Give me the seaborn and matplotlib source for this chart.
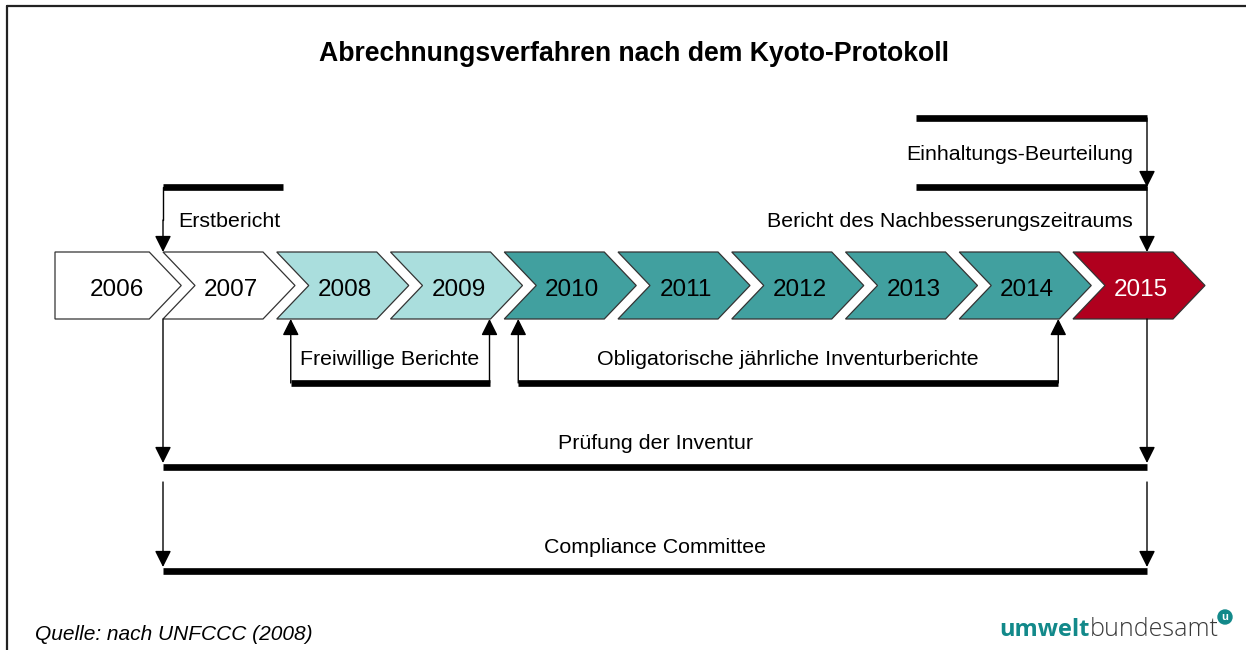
import matplotlib
matplotlib.use("Agg")
import matplotlib.pyplot as plt
import seaborn as sns
from matplotlib.patches import Polygon, Circle

# ---- data ----
years = [2006, 2007, 2008, 2009, 2010, 2011, 2012, 2013, 2014, 2015]
phases = ["vor", "vor", "frei", "frei", "pflicht", "pflicht", "pflicht", "pflicht", "pflicht", "ende"]

# labels above the timeline (arrow points down onto the year)
top_labels = ["Erstbericht", "Einhaltungs-Beurteilung", "Bericht des Nachbesserungszeitraums"]
top_years = [2007, 2015, 2015]

# reporting spans below the timeline
span_labels = ["Freiwillige Berichte", "Obligatorische jährliche Inventurberichte"]
span_start = [2008, 2010]
span_end = [2009, 2014]

# long processes running over the whole period
long_labels = ["Prüfung der Inventur", "Compliance Committee"]
long_start = [2007, 2007]
long_end = [2015, 2015]

title = "Abrechnungsverfahren nach dem Kyoto-Protokoll"
source = "Quelle: nach UNFCCC (2008)"

# ---- style ----
sns.set_theme(style="white")
plt.rcParams['font.family'] = ['Liberation Sans', 'DejaVu Sans']
plt.rcParams['text.color'] = 'black'

phase_colors = {"vor": "#ffffff", "frei": "#aadedd", "pflicht": "#41a09f", "ende": "#b0001e"}
text_colors = {"vor": "black", "frei": "black", "pflicht": "black", "ende": "white"}

W, H = 1246, 650
fig = plt.figure(figsize=(W / 100, H / 100), dpi=100)
ax = fig.add_axes([0, 0, 1, 1])
ax.set_xlim(0, W)
ax.set_ylim(H, 0)
ax.axis("off")

STEP = 113.75
TOP, BOT = 252, 319
MID = (TOP + BOT) / 2
BODY, TIP = 100, 32
THICK = 4.8
THIN = 1.0
FS = 15.4


def left(year):
    return 163 + (year - 2007) * STEP


def arrow(x, y0, y1):
    ax.annotate("", xy=(x, y1), xytext=(x, y0),
                arrowprops=dict(arrowstyle="-|>,head_length=0.4,head_width=0.2",
                                mutation_scale=25, lw=THIN, color="black",
                                shrinkA=0, shrinkB=0))


def bar(x0, x1, y):
    ax.plot([x0, x1], [y, y], color="black", lw=THICK, solid_capstyle="butt")


def label(x, y, s, ha="center"):
    # va=center counts descenders, nudge down so caps sit like the original
    ax.text(x, y + 2.5, s, ha=ha, va="center", fontsize=FS)


# chevrons
for i, (yr, ph) in enumerate(zip(years, phases)):
    x0 = left(yr)
    if i == 0:
        pts = [(55, TOP), (x0 + BODY, TOP), (x0 + BODY + TIP, MID), (x0 + BODY, BOT), (55, BOT)]
    else:
        pts = [(x0, TOP), (x0 + BODY, TOP), (x0 + BODY + TIP, MID),
               (x0 + BODY, BOT), (x0, BOT), (x0 + TIP, MID)]
    ax.add_patch(Polygon(pts, closed=True, facecolor=phase_colors[ph],
                         edgecolor="#333333", lw=0.9, zorder=2))
    ax.text(x0 + 68, MID + 4, str(yr), ha="center", va="center",
            fontsize=17.5, color=text_colors[ph], zorder=3)

# labels above
x_first = left(top_years[0])
bar(x_first, x_first + 120, 187)
ax.plot([x_first, x_first], [187, 220], color="black", lw=THIN)
arrow(x_first, 220, TOP)
label(x_first + 15, 219, top_labels[0], ha="left")

x_end = left(top_years[1]) + 74
bar(916, x_end, 118)
arrow(x_end, 118, 187)
bar(916, x_end, 187)
arrow(x_end, 187, TOP)
label(x_end - 14, 152, top_labels[1], ha="right")
label(x_end - 14, 219, top_labels[2], ha="right")

# reporting spans below
for lab, s, e in zip(span_labels, span_start, span_end):
    xa = left(s) + 14
    xb = left(e) + BODY - 1
    bar(xa, xb, 383)
    arrow(xa, 383, BOT)
    arrow(xb, 383, BOT)
    label((xa + xb) / 2, 357, lab)

# long processes
for k, (lab, s, e) in enumerate(zip(long_labels, long_start, long_end)):
    xa = left(s)
    xb = left(e) + 74
    y_bar = 467 + k * 104
    y_from = BOT if k == 0 else 482
    bar(xa, xb, y_bar)
    arrow(xa, y_from, y_bar - 4)
    arrow(xb, y_from, y_bar - 4)
    label((xa + xb) / 2, y_bar - 26, lab)

# title, source and logo
ax.text(634, 54, title, ha="center", va="center", fontsize=19.2, fontweight="bold")
ax.text(35, 634, source, ha="left", va="center", fontsize=15, style="italic")
ax.text(1090, 636, "umwelt", ha="right", va="baseline", fontsize=17,
        fontweight="bold", color="#12898a", family=["Open Sans", "DejaVu Sans"])
ax.text(1090, 636, "bundesamt", ha="left", va="baseline", fontsize=18,
        color="#3a3a3a", family=["Open Sans", "DejaVu Sans"], fontweight="light")
ax.add_patch(Circle((1225, 617), 7, color="#12898a", zorder=3))
ax.text(1225, 617, "u", ha="center", va="center", fontsize=8, fontweight="bold",
        color="white", zorder=4)

# frame
ax.plot([7, W], [6, 6], color="#222222", lw=1.6)
ax.plot([7, 7], [6, H], color="#222222", lw=1.6)

fig.savefig("out.png", dpi=100)
